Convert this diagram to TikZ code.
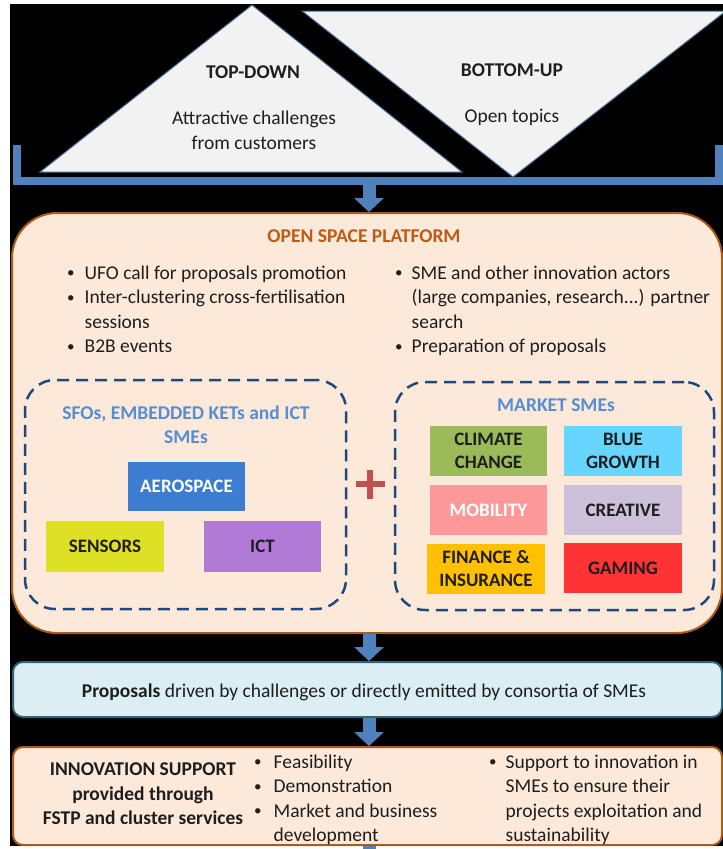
\documentclass[tikz,border=0pt]{standalone}
\usepackage{fontspec}
\setmainfont{Carlito}
\usetikzlibrary{arrows.meta}
\definecolor{bblue}{RGB}{79,129,189}
\definecolor{triline}{RGB}{65,100,150}
\definecolor{trifill}{RGB}{242,242,242}
\definecolor{peach}{RGB}{253,233,217}
\definecolor{brownline}{RGB}{170,90,25}
\definecolor{titlebrown}{RGB}{190,90,20}
\definecolor{dashblue}{RGB}{31,73,125}
\definecolor{lblue}{RGB}{85,142,213}
\definecolor{propfill}{RGB}{218,238,243}
\definecolor{propline}{RGB}{50,100,120}
\definecolor{plusred}{RGB}{192,80,77}
\definecolor{caero}{RGB}{60,125,210}
\definecolor{csens}{RGB}{221,224,36}
\definecolor{cict}{RGB}{176,122,214}
\definecolor{cclim}{RGB}{155,187,89}
\definecolor{cblue}{RGB}{102,214,255}
\definecolor{cmob}{RGB}{255,153,153}
\definecolor{ccrea}{RGB}{204,192,218}
\definecolor{cfin}{RGB}{255,192,0}
\definecolor{cgam}{RGB}{255,51,51}
\definecolor{textgray}{RGB}{30,30,30}
\newcommand{\mybul}{\raisebox{1.2pt}{\fontsize{15}{15}\selectfont •}}
\begin{document}
\begin{tikzpicture}[x=1pt,y=-1pt,
  txt/.style={inner sep=0pt,text=textgray,font=\fontsize{19.5}{24.5}\selectfont},
  btxt/.style={inner sep=0pt,text=textgray,font=\fontsize{19.5}{24.5}\selectfont\bfseries},
  catbox/.style={inner sep=0pt,align=center,text=textgray,font=\fontsize{19}{23.5}\selectfont\bfseries},
  peachbox/.style={draw=brownline,fill=peach,line width=2pt,inner sep=0pt},
  dashbox/.style={draw=dashblue,line width=2.5pt,dash pattern=on 12pt off 7pt,rounded corners=30pt,inner sep=0pt},
  blockarrow/.style={draw=bblue,line width=13pt,-{Triangle[width=29pt,length=14pt]}},
  tri/.style={draw=triline,fill=trifill,line width=1pt}
]
\useasboundingbox (0,0) rectangle (723,849);
\fill[white] (0,0) rectangle (723,849);
\fill[black] (10,4) rectangle (723,846);

% triangles
\draw[tri] (252,5) -- (462,172) -- (40,172) -- cycle;
\draw[tri] (302,11) -- (726,11) -- (513,177) -- cycle;
\node[btxt] (td) at (253,72) {TOP-DOWN};
\node[txt,align=center] (tdtext) at (254,130.5) {Attractive challenges\\from customers};
\node[btxt] (bu) at (512,70) {BOTTOM-UP};
\node[txt] (butext) at (512,117) {Open topics};

% bracket
\draw[bblue,line width=8pt] (16.5,145) -- (16.5,181) -- (719,181) -- (719,145);
\coordinate (bmid) at (369,181);

% open space platform
\node[peachbox,rounded corners=45pt,minimum width=710pt,minimum height=420pt] (platform) at (367,423) {};
\node[btxt,text=titlebrown] (ptitle) at (364,236) {OPEN SPACE PLATFORM};
\node[txt,anchor=west] (plist) at (67,311) {\begin{tabular}{@{}l@{\hspace{10pt}}l@{}}\mybul&UFO call for proposals promotion\\ \mybul&Inter-clustering cross-fertilisation\\ &sessions\\ \mybul&B2B events\end{tabular}};
\node[txt,anchor=west] (prlist) at (395,311) {\begin{tabular}{@{}l@{\hspace{9pt}}l@{}}\mybul&SME and other innovation actors\\ &(large companies, research...) partner\\ &search\\ \mybul&Preparation of proposals\end{tabular}};

% dashed groups
\node[dashbox,minimum width=321pt,minimum height=229pt] (leftgrp) at (185.5,494.5) {};
\node[dashbox,minimum width=319pt,minimum height=228pt] (rightgrp) at (554.5,496) {};
\node[btxt,text=lblue,align=center] (lefttitle) at (186,424.5) {SFOs, EMBEDDED KETs and ICT\\SMEs};
\node[btxt,text=lblue] (righttitle) at (556,405) {MARKET SMEs};

\node[catbox,fill=caero,text=white,minimum width=117pt,minimum height=49pt] (aero) at (186.5,486) {AEROSPACE};
\node[catbox,fill=csens,minimum width=118pt,minimum height=51pt] (sens) at (105,546.5) {SENSORS};
\node[catbox,fill=cict,minimum width=117pt,minimum height=51pt] (ict) at (262.5,546.5) {ICT};

\node[catbox,fill=cclim,minimum width=117pt,minimum height=50pt] (clim) at (488.5,451) {CLIMATE\\CHANGE};
\node[catbox,fill=cblue,minimum width=118pt,minimum height=50pt] (blue) at (623,451) {BLUE\\GROWTH};
\node[catbox,fill=cmob,text=white,minimum width=117pt,minimum height=50pt] (mob) at (488.5,510) {MOBILITY};
\node[catbox,fill=ccrea,minimum width=118pt,minimum height=50pt] (crea) at (623,510) {CREATIVE};
\node[catbox,fill=cfin,minimum width=118pt,minimum height=50pt] (fin) at (486,568.5) {FINANCE \&\\INSURANCE};
\node[catbox,fill=cgam,minimum width=118pt,minimum height=50pt] (gam) at (623,568) {GAMING};

% plus
\draw[plusred,line width=6.5pt] (355.5,484) -- (384.5,484) (370,470) -- (370,499);

% proposals
\node[draw=propline,fill=propfill,line width=2pt,rounded corners=10pt,minimum width=709pt,minimum height=55pt,inner sep=0pt] (prop) at (367.5,689.5) {};
\node[txt] (proptext) at (364,692) {\textbf{Proposals} driven by challenges or directly emitted by consortia of SMEs};

% innovation support
\node[peachbox,rounded corners=10pt,minimum width=709pt,minimum height=98pt] (innov) at (367.5,796) {};
\node[btxt,align=center] (innovtitle) at (143,794) {INNOVATION SUPPORT\\provided through\\FSTP and cluster services};
\node[txt,anchor=west] (ilist) at (254,800) {\begin{tabular}{@{}l@{\hspace{12pt}}l@{}}\mybul&Feasibility\\ \mybul&Demonstration\\ \mybul&Market and business\\ &development\end{tabular}};
\node[txt,anchor=west] (irlist) at (489,800) {\begin{tabular}{@{}l@{\hspace{9pt}}l@{}}\mybul&Support to innovation in\\ &SMEs to ensure their\\ &projects exploitation and\\ &sustainability\end{tabular}};

% arrows
\draw[blockarrow] (bmid) -- (bmid |- platform.north);
\draw[blockarrow] (platform.south -| bmid) -- (prop.north -| bmid);
\draw[blockarrow] (prop.south -| bmid) -- (innov.north -| bmid);
\fill[bblue] (362.5,846) rectangle (375.5,849);
\end{tikzpicture}
\end{document}
